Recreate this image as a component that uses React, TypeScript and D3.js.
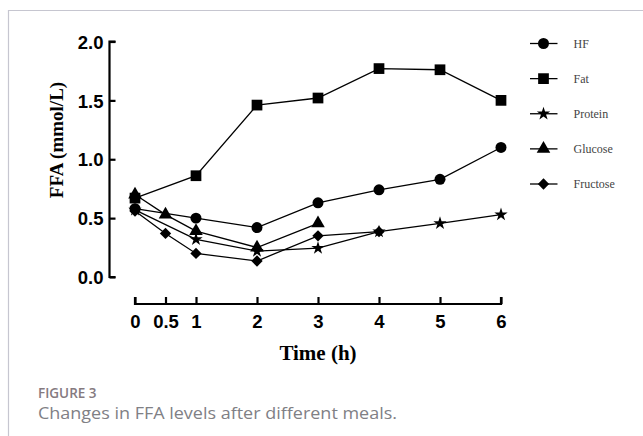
import React, { useEffect, useRef } from "react";
import * as d3 from "d3";

// time points (h) and FFA values (mmol/L)
const hfTime = [0, 1, 2, 3, 4, 5, 6];
const hfValues = [0.58, 0.5, 0.42, 0.63, 0.74, 0.83, 1.1];

const fatTime = [0, 1, 2, 3, 4, 5, 6];
const fatValues = [0.67, 0.86, 1.46, 1.52, 1.77, 1.76, 1.5];

const proteinTime = [0, 1, 2, 3, 4, 5, 6];
const proteinValues = [0.57, 0.32, 0.22, 0.245, 0.385, 0.456, 0.53];

const glucoseTime = [0, 0.5, 1, 2, 3];
const glucoseValues = [0.7, 0.53, 0.39, 0.25, 0.456];

const fructoseTime = [0, 0.5, 1, 2, 3, 4];
const fructoseValues = [0.56, 0.37, 0.2, 0.136, 0.35, 0.385];

const xTicks = [0, 0.5, 1, 2, 3, 4, 5, 6];
const yTicks = [0, 0.5, 1.0, 1.5, 2.0];

const seriesNames = ["HF", "Fat", "Protein", "Glucose", "Fructose"];

// square diamond (d3's own diamond is stretched)
const symbolRhomb = {
  draw(context, size) {
    const r = Math.sqrt(size / 2);
    context.moveTo(0, -r);
    context.lineTo(r, 0);
    context.lineTo(0, r);
    context.lineTo(-r, 0);
    context.closePath();
  },
};

function App() {
  const ref = useRef(null);
  const width = 643;
  const height = 436;

  useEffect(() => {
    const svg = d3.select(ref.current);
    svg.selectAll("*").remove();

    const x = d3.scaleLinear().domain([0, 6]).range([135, 501]);
    const y = d3.scaleLinear().domain([0, 2]).range([277, 41.5]);

    // page frame
    svg.append("line").attr("x1", 8).attr("x2", width).attr("y1", 10.5).attr("y2", 10.5)
      .attr("stroke", "#c6c6d0").attr("stroke-width", 1.2);
    svg.append("line").attr("x1", 8.5).attr("x2", 8.5).attr("y1", 10).attr("y2", height)
      .attr("stroke", "#c6c6d0").attr("stroke-width", 1.2);

    // y axis
    const yAxis = svg.append("g")
      .attr("transform", "translate(109.5,0)")
      .call(d3.axisRight(y).tickValues(yTicks).tickSize(6).tickFormat(d3.format(".1f")));
    yAxis.select(".domain").attr("stroke-width", 2.2).attr("d", `M6,${y(2)}H0V${y(0)}H6`);
    yAxis.selectAll(".tick line").attr("stroke-width", 2.2);
    yAxis.selectAll(".tick text")
      .attr("x", -6)
      .attr("dy", "0.36em")
      .attr("text-anchor", "end")
      .style("font-family", "Liberation Sans, Arial, sans-serif")
      .style("font-weight", "bold")
      .style("font-size", "18.5px")
      .attr("fill", "#000");

    // x axis (offset below)
    const xAxis = svg.append("g")
      .attr("transform", "translate(0,304)")
      .call(d3.axisTop(x).tickValues(xTicks).tickSize(7).tickFormat((d) => String(d)));
    xAxis.select(".domain").attr("stroke-width", 2.2).attr("d", `M${x(0)},-7V0H${x(6)}V-7`);
    xAxis.selectAll(".tick line").attr("stroke-width", 2.2);
    xAxis.selectAll(".tick text")
      .attr("y", 24)
      .attr("dy", 0)
      .style("font-family", "Liberation Sans, Arial, sans-serif")
      .style("font-weight", "bold")
      .style("font-size", "18.5px")
      .attr("fill", "#000");

    // axis titles
    svg.append("text")
      .attr("x", 318).attr("y", 360)
      .attr("text-anchor", "middle")
      .style("font-family", "Liberation Serif, Times New Roman, serif")
      .style("font-weight", "bold")
      .style("font-size", "21px")
      .text("Time (h)");
    svg.append("text")
      .attr("transform", "translate(63,140) rotate(-90)")
      .attr("text-anchor", "middle")
      .style("font-family", "Liberation Serif, Times New Roman, serif")
      .style("font-weight", "bold")
      .style("font-size", "19px")
      .text("FFA (mmol/L)");

    const series = [
      { name: "HF", t: hfTime, v: hfValues, sym: d3.symbolCircle, size: 95 },
      { name: "Fat", t: fatTime, v: fatValues, sym: d3.symbolSquare, size: 115 },
      { name: "Protein", t: proteinTime, v: proteinValues, sym: d3.symbolStar, size: 55 },
      { name: "Glucose", t: glucoseTime, v: glucoseValues, sym: d3.symbolTriangle, size: 80 },
      { name: "Fructose", t: fructoseTime, v: fructoseValues, sym: symbolRhomb, size: 64 },
    ];

    const line = d3.line().x((d) => x(d[0])).y((d) => y(d[1]));

    series.forEach((s) => {
      const pts = s.t.map((t, i) => [t, s.v[i]]);
      svg.append("path").datum(pts).attr("d", line)
        .attr("fill", "none").attr("stroke", "#000").attr("stroke-width", 1.3);
      svg.selectAll(null).data(pts).enter().append("path")
        .attr("transform", (d) => `translate(${x(d[0])},${y(d[1])})`)
        .attr("d", d3.symbol().type(s.sym).size(s.size)())
        .attr("fill", "#000");
    });

    // legend
    const legendY = d3.scalePoint().domain(seriesNames).range([43.5, 184]);
    series.forEach((s) => {
      const g = svg.append("g").attr("transform", `translate(543.5,${legendY(s.name)})`);
      g.append("line").attr("x1", -13.5).attr("x2", 14).attr("stroke", "#000").attr("stroke-width", 1.3);
      g.append("path").attr("d", d3.symbol().type(s.sym).size(s.size)()).attr("fill", "#000");
      g.append("text")
        .attr("x", 30).attr("dy", "0.35em")
        .style("font-family", "Liberation Serif, Times New Roman, serif")
        .style("font-size", "12px")
        .attr("fill", "#444")
        .text(s.name);
    });

    // caption
    svg.append("text")
      .attr("x", 38).attr("y", 398)
      .style("font-family", "Open Sans, sans-serif")
      .style("font-size", "13.5px")
      .style("font-weight", 600)
      .attr("fill", "#857a7f")
      .text("FIGURE 3");
    svg.append("text")
      .attr("x", 38).attr("y", 419)
      .attr("textLength", 359).attr("lengthAdjust", "spacingAndGlyphs")
      .style("font-family", "Open Sans, sans-serif")
      .style("font-size", "16px")
      .attr("fill", "#808085")
      .text("Changes in FFA levels after different meals.");
  });

  return (
    <svg ref={ref} width={width} height={height}
      style={{ position: "absolute", left: 0, top: 0, background: "#fff" }} />
  );
}

export default App;
